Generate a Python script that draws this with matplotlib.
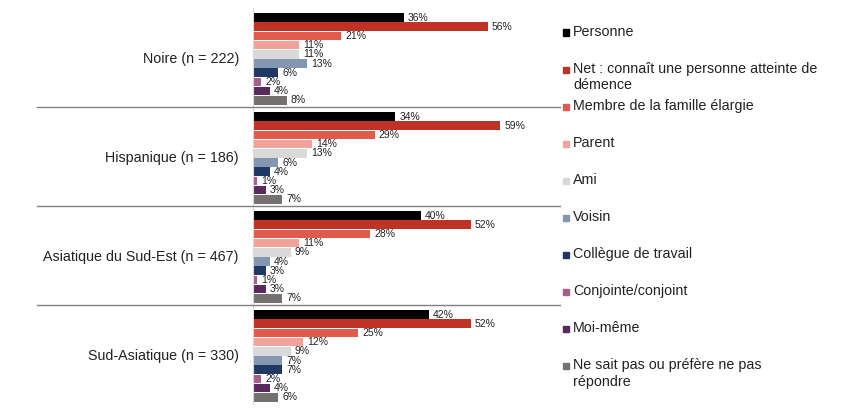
import numpy as np
import matplotlib.pyplot as plt
import matplotlib.transforms as mtransforms
from matplotlib.lines import Line2D
from matplotlib.patches import Rectangle

plt.rcParams['font.family'] = ['Liberation Sans', 'DejaVu Sans']

groups = ['Noire (n = 222)', 'Hispanique (n = 186)',
          'Asiatique du Sud-Est (n = 467)', 'Sud-Asiatique (n = 330)']
series = ['Personne', 'Net : connaît une personne atteinte de\ndémence',
          'Membre de la famille élargie', 'Parent', 'Ami', 'Voisin',
          'Collègue de travail', 'Conjointe/conjoint', 'Moi-même',
          'Ne sait pas ou préfère ne pas\nrépondre']
colors = ['#000000', '#BF3226', '#E05B4C', '#F0A29B', '#D9D9D9',
          '#8497B0', '#1F3864', '#A65F8B', '#5A2A5E', '#767171']

# values per group, in series order
noire = [36, 56, 21, 11, 11, 13, 6, 2, 4, 8]
hispanique = [34, 59, 29, 14, 13, 6, 4, 1, 3, 7]
asiatique_se = [40, 52, 28, 11, 9, 4, 3, 1, 3, 7]
sud_asiatique = [42, 52, 25, 12, 9, 7, 7, 2, 4, 6]
values = [noire, hispanique, asiatique_se, sud_asiatique]

W, H = 864, 413
fig = plt.figure(figsize=(W / 100, H / 100), dpi=100)
ax_left, ax_right, ax_top, ax_bot = 253, 560, 8, 404
ax = fig.add_axes([ax_left / W, 1 - ax_bot / H, (ax_right - ax_left) / W,
                   (ax_bot - ax_top) / H])

n_ser = len(series)
period = 10.76   # group height in bar slots
pad_top = 0.54

for gi, vals in enumerate(values):
    for si, v in enumerate(vals):
        y = gi * period + pad_top + si + 0.5
        ax.barh(y, v, height=0.93, color=colors[si])
        ax.text(v + 1.0, y, f'{v}%', va='center', ha='left', fontsize=7.5,
                color='#222222')

ax.set_ylim(len(groups) * period, 0)
ax.set_xlim(0, (ax_right - ax_left) / 4.19)
ax.set_xticks([])
ax.set_yticks([])
for s in ['top', 'right', 'bottom']:
    ax.spines[s].set_visible(False)
ax.spines['left'].set_color('#D9D9D9')
ax.spines['left'].set_linewidth(0.8)

# group labels and separators
trans = mtransforms.blended_transform_factory(fig.transFigure, ax.transData)
for gi, g in enumerate(groups):
    yc = gi * period + pad_top + n_ser / 2
    t = fig.text(239 / W, 0, g, transform=trans, ha='right', va='center',
                 fontsize=10.3, color='#222222')
    t.set_y(yc)
    if gi > 0:
        ysep = gi * period
        fig.add_artist(Line2D([37 / W, 560 / W], [ysep, ysep], transform=trans,
                              color='#808080', linewidth=1))

# legend
for si, lab in enumerate(series):
    yp = 32.5 + 37.1 * si
    fig.add_artist(Rectangle((563 / W, 1 - (yp + 3) / H), 6 / W, 6 / H,
                             transform=fig.transFigure, color=colors[si]))
    fig.text(573 / W, 1 - (yp - 8) / H, lab, ha='left', va='top',
             fontsize=10.3, color='#222222', linespacing=1.22)

fig.savefig('out.png', dpi=100)
